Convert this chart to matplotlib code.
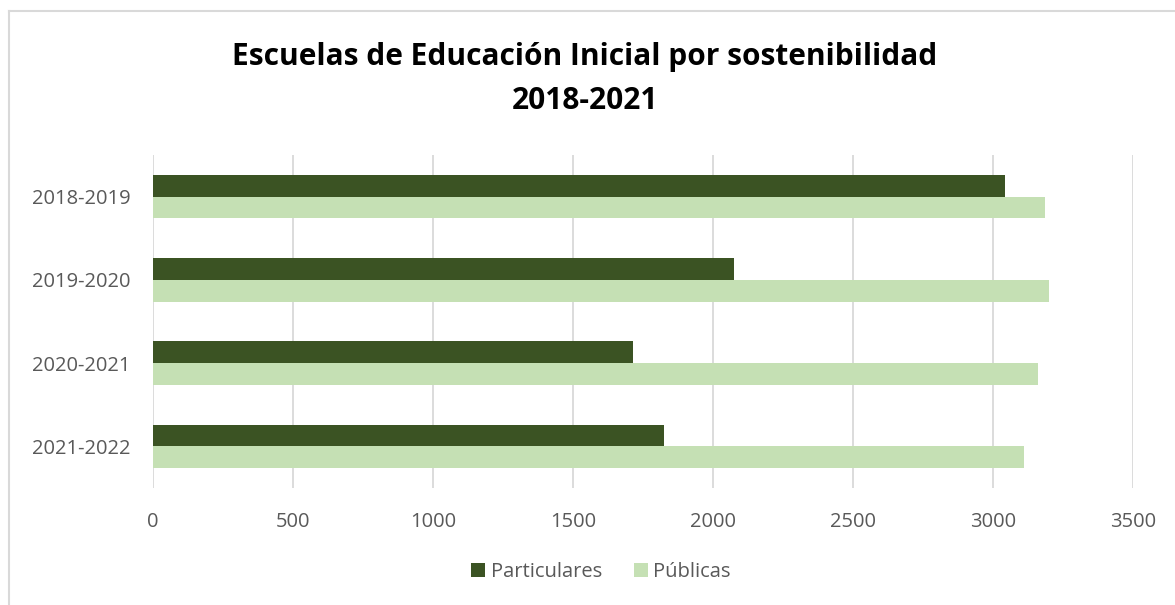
import matplotlib
matplotlib.use("Agg")
import matplotlib.pyplot as plt
from matplotlib.lines import Line2D
from matplotlib.patches import Patch
import numpy as np

plt.rcParams['font.family'] = ['Open Sans', 'DejaVu Sans']

categories = ["2018-2019", "2019-2020", "2020-2021", "2021-2022"]
particulares = [3043, 2075, 1714, 1826]
publicas = [3186, 3199, 3162, 3111]
series_names = ["Particulares", "Públicas"]
x_ticks = [0, 500, 1000, 1500, 2000, 2500, 3000, 3500]

dark_green = "#3B5323"
light_green = "#C5E0B4"
text_grey = "#595959"
grid_grey = "#D9D9D9"

W, H = 1175, 605
fig = plt.figure(figsize=(W / 100, H / 100), dpi=100)
ax = fig.add_axes([153 / W, 1 - 488 / H, (1133 - 153) / W, (488 - 155) / H])

y = np.arange(len(categories))
bar_h = 0.26
ax.barh(y - bar_h / 2, particulares, height=bar_h, color=dark_green, zorder=3)
ax.barh(y + bar_h / 2, publicas, height=bar_h, color=light_green, zorder=3)

ax.set_ylim(len(categories) - 0.5, -0.5)
ax.set_xlim(0, 3500)
ax.set_xticks(x_ticks)
ax.set_xticklabels([str(v) for v in x_ticks], fontsize=14.5, color=text_grey)
ax.set_yticks(y)
ax.set_yticklabels(categories, fontsize=14.5, color=text_grey)
ax.tick_params(axis='both', length=0)
ax.tick_params(axis='x', pad=17)
ax.tick_params(axis='y', pad=16)
ax.xaxis.grid(True, color=grid_grey, linewidth=1.3, zorder=0)
ax.set_axisbelow(True)
for s in ax.spines.values():
    s.set_visible(False)

fig.text(585 / W, 1 - 57 / H, "Escuelas de Educación Inicial por sostenibilidad",
         ha='center', va='center', fontsize=21.5, fontweight='bold', color='black')
fig.text(585 / W, 1 - 101 / H, "2018-2021",
         ha='center', va='center', fontsize=21.5, fontweight='bold', color='black')

handles = [Patch(facecolor=dark_green), Patch(facecolor=light_green)]
fig.legend(handles, series_names, loc='center', bbox_to_anchor=(601 / W, 1 - 572 / H),
           ncol=2, frameon=False, fontsize=14.5, labelcolor=text_grey,
           handlelength=0.7, handleheight=0.7, handletextpad=0.25, columnspacing=1.6)

# chart frame border
fig.add_artist(Line2D([9 / W, 9 / W], [1 - 11 / H, 0], color=grid_grey, linewidth=1.5))
fig.add_artist(Line2D([9 / W, 1], [1 - 11 / H, 1 - 11 / H], color=grid_grey, linewidth=1.5))

fig.savefig("out.png", dpi=100, facecolor='white')
